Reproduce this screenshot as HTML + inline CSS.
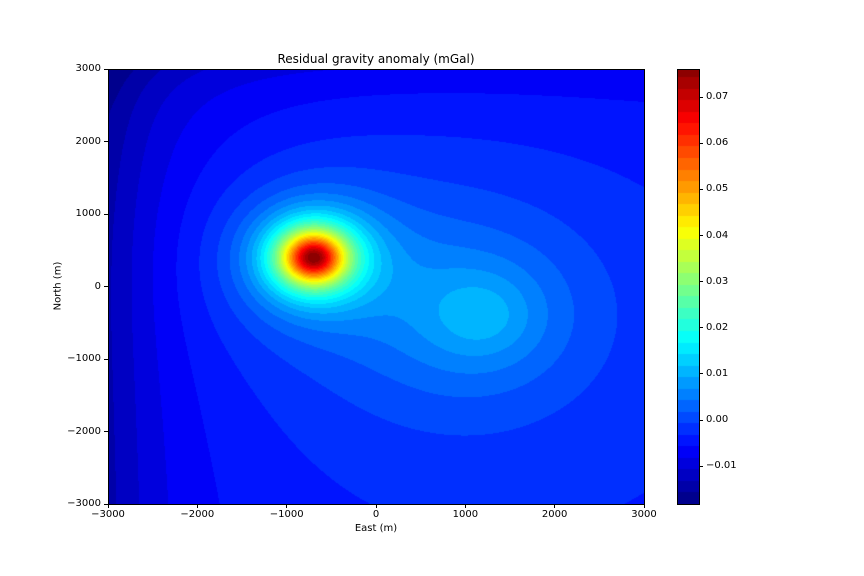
<!DOCTYPE html>
<html><head><meta charset="utf-8"><style>
body{margin:0;background:#fff;}
#wrap{position:relative;width:864px;height:576px;font-family:"DejaVu Sans","Liberation Sans",sans-serif;font-size:10px;color:#000;}
.t{position:absolute;white-space:nowrap;}
</style></head><body>
<div id="wrap">
<div class="t" style="left:376px;top:52px;transform:translateX(-50%);font-size:12px;">Residual gravity anomaly (mGal)</div>
<canvas id="plot" width="536" height="435" style="position:absolute;left:108px;top:69px;"></canvas>
<div style="position:absolute;left:108px;top:69px;width:535px;height:434px;border:1px solid #000;"></div>
<canvas id="cbar" width="22" height="435" style="position:absolute;left:677px;top:69px;"></canvas>
<div style="position:absolute;left:677px;top:69px;width:21px;height:434px;border:1px solid #000;"></div>
<div class="t" style="left:376px;top:523px;transform:translateX(-50%);">East (m)</div>
<div class="t" style="left:58px;top:286px;transform:translate(-50%,-50%) rotate(-90deg);">North (m)</div>
<div id="ticks"></div>
</div>
<script>
// point-mass sources [east, north, depth, amplitude mGal]
const srcEast=[-700,1200,800];
const srcNorth=[400,-400,-300];
const srcDepth=[460,900,2000];
const srcAmp=[0.079,0.0095,0.006];
// line sources: west edge (north-south), north edge (east-west)
const lineWestPos=[-3300], lineWestDepth=[800], lineWestAmp=[-0.012];
const lineNorthPos=[3600], lineNorthDepth=[700], lineNorthAmp=[-0.008];
const background=[-0.004];
const levelMin=-0.0182, levelMax=0.0761, levelStep=0.0025;
const xTicks=[-3000,-2000,-1000,0,1000,2000,3000];
const yTicks=[-3000,-2000,-1000,0,1000,2000,3000];
const cbTicks=[-0.01,0.00,0.01,0.02,0.03,0.04,0.05,0.06,0.07];

const X0=108,Y0=69,W=536,H=435;
const xs=v=>X0+(v+3000)/6000*W, ys=v=>Y0+(3000-v)/6000*H;
const cs=v=>Y0+(levelMax-v)/(levelMax-levelMin)*H;

function field(e,n){
  let g=background[0];
  for(let i=0;i<srcEast.length;i++){
    const dx=e-srcEast[i],dy=n-srcNorth[i],z=srcDepth[i];
    g+=srcAmp[i]*Math.pow(z*z/(dx*dx+dy*dy+z*z),1.5);
  }
  let d=e-lineWestPos[0],z=lineWestDepth[0];
  g+=lineWestAmp[0]*z*z/(d*d+z*z);
  d=n-lineNorthPos[0];z=lineNorthDepth[0];
  g+=lineNorthAmp[0]*z*z/(d*d+z*z);
  return g;
}
function jet(t){
  t=Math.max(0,Math.min(1,t));
  const c=x=>Math.max(0,Math.min(1,x));
  return [c(1.5-Math.abs(4*t-3)),c(1.5-Math.abs(4*t-2)),c(1.5-Math.abs(4*t-1))].map(v=>Math.round(v*255));
}
const nLev=Math.ceil((levelMax-levelMin)/levelStep);
function bandColor(v){
  let k=Math.floor((v-levelMin)/levelStep);k=Math.max(0,Math.min(nLev-1,k));
  return jet((k+0.5)/nLev);
}
const pc=document.getElementById('plot').getContext('2d');
const img=pc.createImageData(W,H);
for(let py=0;py<H;py++)for(let px=0;px<W;px++){
  const e=-3000+(px+0.5)/W*6000,n=3000-(py+0.5)/H*6000;
  const c=bandColor(field(e,n));const o=(py*W+px)*4;
  img.data[o]=c[0];img.data[o+1]=c[1];img.data[o+2]=c[2];img.data[o+3]=255;
}
pc.putImageData(img,0,0);
const cc=document.getElementById('cbar').getContext('2d');
for(let py=0;py<H;py++){const v=levelMax-(py+0.5)/H*(levelMax-levelMin);const c=bandColor(v);cc.fillStyle=`rgb(${c})`;cc.fillRect(0,py,22,1);}

const tk=document.getElementById('ticks');
function add(html,name){const d=document.createElement('div');d.innerHTML=html;const el=d.firstChild;


tk.appendChild(el);}
const fmt=v=>(v<0?'\u2212':'')+Math.abs(v);
xTicks.forEach(v=>{const x=xs(v);
 add(`<div style="position:absolute;left:${x-0.5}px;top:504px;width:1px;height:4px;background:#000"></div>`,'x-tick');
 add(`<div class="t" style="left:${x}px;top:509px;transform:translateX(-50%)">${fmt(v)}</div>`,'x-tick-label');});
yTicks.forEach(v=>{const y=ys(v);
 add(`<div style="position:absolute;left:104px;top:${y-0.5}px;width:4px;height:1px;background:#000"></div>`,'y-tick');
 add(`<div class="t" style="right:${864-101}px;top:${y-6}px">${fmt(v)}</div>`,'y-tick-label');});
cbTicks.forEach(v=>{const y=cs(v);
 add(`<div style="position:absolute;left:699px;top:${y-0.5}px;width:4px;height:1px;background:#000"></div>`,'colorbar-tick');
 add(`<div class="t" style="left:706px;top:${y-6}px">${(v<0?'\u2212':'')+Math.abs(v).toFixed(2)}</div>`,'colorbar-tick-label');});
</script>
</body></html>
